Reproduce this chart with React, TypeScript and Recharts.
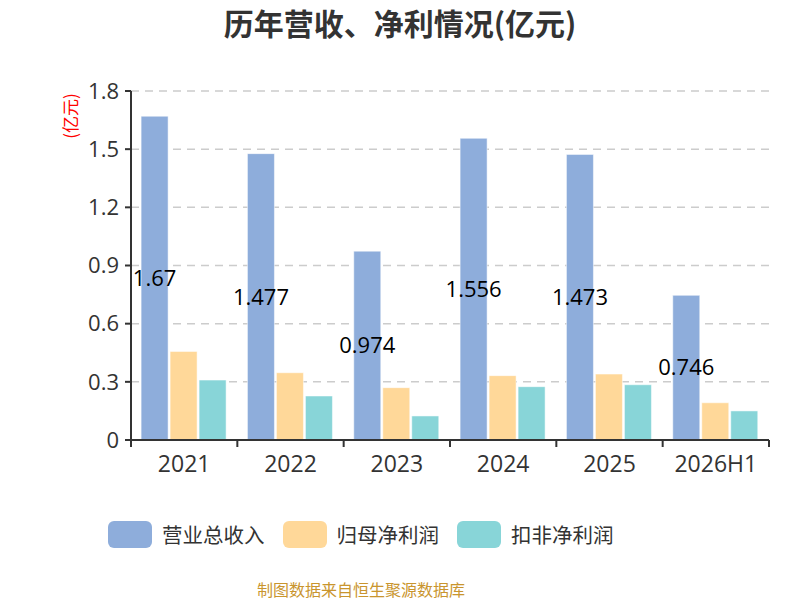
import React from 'react';
import { BarChart, Bar, XAxis, YAxis, CartesianGrid, Legend, LabelList } from 'recharts';

const categories = ['2021', '2022', '2023', '2024', '2025', '2026H1'];
const revenue = [1.67, 1.477, 0.974, 1.556, 1.473, 0.746];
const netProfit = [0.457, 0.347, 0.27, 0.332, 0.34, 0.192];
const deductedProfit = [0.309, 0.227, 0.124, 0.275, 0.285, 0.15];
const yTicks = [0, 0.3, 0.6, 0.9, 1.2, 1.5, 1.8];

const seriesNames = ['营业总收入', '归母净利润', '扣非净利润'];
const colors = ['#8EADDB', '#FFD899', '#88D5D8'];

const data = categories.map((c, i) => ({
  name: c,
  revenue: revenue[i],
  netProfit: netProfit[i],
  deductedProfit: deductedProfit[i],
}));

const FONT = '"Noto Sans CJK SC", "Noto Sans", sans-serif';
const NUMFONT = '"Open Sans", "Noto Sans CJK SC", sans-serif';

const XTick = (props: any) => {
  const { x, y, payload, index, visibleTicksCount } = props;
  const off = payload.offset || 0;
  const isLast = index === (visibleTicksCount ?? categories.length) - 1;
  return (
    <g>
      <line x1={x - off} y1={y - 8} x2={x - off} y2={y - 1} stroke="#333" strokeWidth={2} />
      {isLast && <line x1={x + off} y1={y - 8} x2={x + off} y2={y - 1} stroke="#333" strokeWidth={2} />}
      <text x={x} y={y + 24} textAnchor="middle" fill="#333" fontSize={23} fontFamily={NUMFONT}>
        {payload.value}
      </text>
    </g>
  );
};

const LegendContent = (props: any) => {
  const { payload } = props;
  const items = [...(payload || [])].sort(
    (a: any, b: any) => seriesNames.indexOf(a.value) - seriesNames.indexOf(b.value)
  );
  return (
    <div style={{ display: 'flex', alignItems: 'center', fontFamily: FONT }}>
      {items.map((p: any, i: number) => (
        <div key={i} style={{ display: 'flex', alignItems: 'center', marginRight: 18 }}>
          <div style={{ width: 44, height: 27, borderRadius: 6, background: p.color, marginRight: 10 }} />
          <span style={{ fontSize: 20.5, color: '#333', lineHeight: '27px' }}>{p.value}</span>
        </div>
      ))}
    </div>
  );
};

export default function App() {
  return (
    <div style={{ position: 'absolute', left: 0, top: 0, width: 800, height: 600, background: '#fff', fontFamily: FONT }}>
      <div
        style={{
          position: 'absolute', left: 0, top: 3, width: 800, textAlign: 'center',
          fontSize: 30, fontWeight: 'bold', color: '#333', lineHeight: '38px',
        }}
      >
        历年营收、净利情况(亿元)
      </div>
      <div
        style={{
          position: 'absolute', left: 70, top: 116, transform: 'translate(-50%, -50%) rotate(-90deg)',
          color: '#FF0000', fontSize: 17, whiteSpace: 'nowrap', lineHeight: '20px',
        }}
      >
        (亿元)
      </div>
      <div
        style={{
          position: 'absolute', left: 0, top: 578, width: 722, textAlign: 'center',
          fontSize: 16, color: '#C9952E', lineHeight: '22px',
        }}
      >
        制图数据来自恒生聚源数据库
      </div>
      <BarChart
        width={800}
        height={600}
        data={data}
        margin={{ top: 91, right: 31, bottom: 130, left: 0 }}
        barCategoryGap="9.5%"
        barGap={2}
      >
        <CartesianGrid horizontal vertical={false} stroke="#ccc" strokeDasharray="8 6" strokeWidth={1.5} />
        <XAxis
          dataKey="name"
          height={30}
          axisLine={{ stroke: '#333', strokeWidth: 2 }}
          tickLine={false}
          tick={<XTick />}
          interval={0}
        />
        <YAxis
          width={131}
          domain={[0, 1.8]}
          ticks={yTicks}
          axisLine={{ stroke: '#333', strokeWidth: 2 }}
          tickLine={{ stroke: '#333', strokeWidth: 2 }}
          tickSize={6}
          tickMargin={6}
          tick={{ fill: '#333', fontSize: 22, fontFamily: NUMFONT }}
          tickFormatter={(v: number) => String(v)}
        />
        <Legend
          verticalAlign="middle"
          layout="horizontal"
          content={<LegendContent />}
          wrapperStyle={{ left: 108, top: 521, width: 560, height: 28 }}
        />
        <Bar dataKey="revenue" name={seriesNames[0]} fill={colors[0]} stroke="rgba(255,255,255,0.5)" strokeWidth={1} isAnimationActive={false}>
          <LabelList dataKey="revenue" position="center" fill="#000" fontSize={22} fontFamily={NUMFONT} />
        </Bar>
        <Bar dataKey="netProfit" name={seriesNames[1]} fill={colors[1]} stroke="rgba(255,255,255,0.5)" strokeWidth={1} isAnimationActive={false} />
        <Bar dataKey="deductedProfit" name={seriesNames[2]} fill={colors[2]} stroke="rgba(255,255,255,0.5)" strokeWidth={1} isAnimationActive={false} />
      </BarChart>
    </div>
  );
}
